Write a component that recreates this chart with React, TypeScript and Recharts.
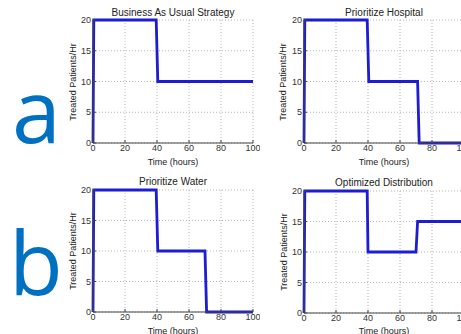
import React from 'react';
import { LineChart, Line, XAxis, YAxis, CartesianGrid } from 'recharts';

// step profiles: time (hours) vs treated patients per hour
const timeUsual = [0, 0.5, 39.5, 40.5, 100];
const rateUsual = [0, 20, 20, 10, 10];

const timeHospital = [0, 0.5, 39.5, 40.5, 71, 72, 100];
const rateHospital = [0, 20, 20, 10, 10, 0, 0];

const timeWater = [0, 0.5, 39.5, 40.5, 70, 71, 100];
const rateWater = [0, 20, 20, 10, 10, 0, 0];

const timeOptimized = [0, 0.5, 39.5, 40, 70, 71, 100];
const rateOptimized = [0, 20, 20, 10, 10, 15, 15];

const xTicks = [0, 20, 40, 60, 80, 100];
const yTicks = [0, 5, 10, 15, 20];

const titles = ['Business As Usual Strategy', 'Prioritize Hospital', 'Prioritize Water', 'Optimized Distribution'];
const xLabel = 'Time (hours)';
const yLabel = 'Treated Patients/Hr';

const toRows = (t: number[], v: number[]) => t.map((x, i) => ({ t: x, v: v[i] }));

const FONT = '"Liberation Sans", Arial, sans-serif';
const LINE = '#1c1cd2';
const FRAME = '#444';

interface PanelProps {
    left: number;
    top: number;
    width: number;
    height: number;
    yAxisWidth: number;
    marginTop: number;
    marginRight: number;
    xAxisHeight: number;
    title: string;
    titleY: number;
    xLabelY: number;
    yLabelX: number;
    data: { t: number; v: number }[];
}

const Panel: React.FC<PanelProps> = (p) => {
    const plotLeft = p.left + p.yAxisWidth;
    const plotRight = p.left + p.width - p.marginRight;
    const plotTop = p.top + p.marginTop;
    const plotBottom = p.top + p.height - p.xAxisHeight;
    const cx = (plotLeft + plotRight) / 2;
    const cy = (plotTop + plotBottom) / 2;
    const tickStyle = { fontSize: 9, fill: '#333', fontFamily: FONT };

    return (
        <>
            <div style={{ position: 'absolute', left: p.left, top: p.top }}>
                <LineChart width={p.width} height={p.height} data={p.data}
                    margin={{ top: p.marginTop, right: p.marginRight, left: 0, bottom: 0 }}>
                    <CartesianGrid stroke="#b5b5b5" strokeDasharray="1 2" />
                    <XAxis dataKey="t" type="number" domain={[0, 100]} ticks={xTicks} height={p.xAxisHeight}
                        tickSize={-3} tickMargin={5} tick={tickStyle} stroke={FRAME} interval={0} />
                    <XAxis xAxisId="top" orientation="top" type="number" domain={[0, 100]} ticks={xTicks}
                        height={0} tickSize={-3} tick={false} stroke={FRAME} />
                    <YAxis type="number" domain={[0, 20]} ticks={yTicks} width={p.yAxisWidth}
                        tickSize={-3} tickMargin={5} tick={tickStyle} stroke={FRAME} interval={0} />
                    <YAxis yAxisId="right" orientation="right" type="number" domain={[0, 20]} ticks={yTicks}
                        width={0} tickSize={-3} tick={false} stroke={FRAME} />
                    <Line dataKey="v" type="linear" stroke={LINE} strokeWidth={2.8} dot={false} isAnimationActive={false} />
                </LineChart>
            </div>
            <div style={{ position: 'absolute', left: cx, top: p.titleY, transform: 'translate(-50%, -50%)',
                fontSize: 10, fontFamily: FONT, color: '#222', whiteSpace: 'nowrap' }}>{p.title}</div>
            <div style={{ position: 'absolute', left: cx, top: p.xLabelY, transform: 'translate(-50%, -50%)',
                fontSize: 9, fontFamily: FONT, color: '#222', whiteSpace: 'nowrap' }}>{xLabel}</div>
            <div style={{ position: 'absolute', left: p.yLabelX, top: cy, transform: 'translate(-50%, -50%) rotate(-90deg)',
                fontSize: 9, fontFamily: FONT, color: '#222', whiteSpace: 'nowrap' }}>{yLabel}</div>
        </>
    );
};

export default function App() {
    return (
        <div style={{ position: 'absolute', left: 0, top: 0, width: 461, height: 334, overflow: 'hidden', background: '#fff' }}>
            <svg width={461} height={334} style={{ position: 'absolute', left: 0, top: 0 }}>
                <text x={12} y={143} fontSize={88} fill="#0070C0" fontFamily='"Open Sans", sans-serif'>a</text>
                <text x={9} y={295} fontSize={88} fill="#0070C0" fontFamily='"Open Sans", sans-serif'>b</text>
            </svg>
            <Panel left={60} top={0} width={200} height={170} yAxisWidth={33} marginTop={20} marginRight={7}
                xAxisHeight={27} title={titles[0]} titleY={12} xLabelY={162} yLabelX={73} data={toRows(timeUsual, rateUsual)} />
            <Panel left={260} top={0} width={210} height={170} yAxisWidth={44} marginTop={20} marginRight={6}
                xAxisHeight={27} title={titles[1]} titleY={12} xLabelY={162} yLabelX={283} data={toRows(timeHospital, rateHospital)} />
            <Panel left={60} top={170} width={200} height={164} yAxisWidth={33} marginTop={20} marginRight={7}
                xAxisHeight={22} title={titles[2]} titleY={181} xLabelY={331} yLabelX={73} data={toRows(timeWater, rateWater)} />
            <Panel left={260} top={170} width={210} height={164} yAxisWidth={44} marginTop={21} marginRight={6}
                xAxisHeight={21} title={titles[3]} titleY={182} xLabelY={331} yLabelX={284} data={toRows(timeOptimized, rateOptimized)} />
        </div>
    );
}
